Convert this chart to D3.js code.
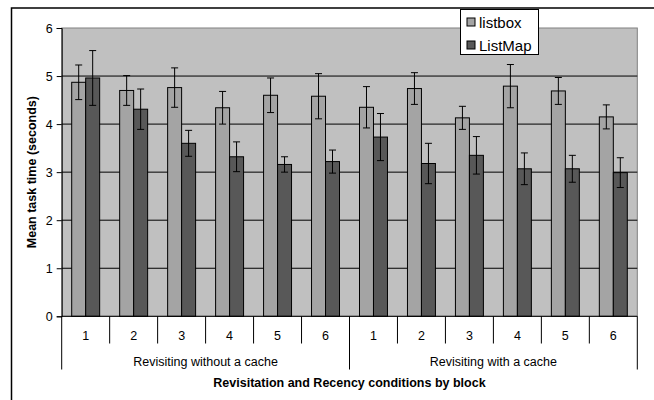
<!DOCTYPE html>
<html><head><meta charset="utf-8">
<script src="https://cdn.jsdelivr.net/npm/d3@7/dist/d3.min.js"></script>
<style>body{margin:0;background:#fff}svg{display:block;font-family:"Liberation Sans",Arial,sans-serif}</style>
</head><body><svg id="c" width="654" height="400"></svg>
<script>
const blocks = ["1","2","3","4","5","6","1","2","3","4","5","6"];
const conditions = ["Revisiting without a cache","Revisiting with a cache"];
const seriesNames = ["listbox","ListMap"];
const listbox = [4.87,4.70,4.76,4.34,4.60,4.58,4.35,4.74,4.13,4.79,4.69,4.15];
const listboxErr = [0.36,0.31,0.41,0.34,0.36,0.47,0.43,0.33,0.24,0.45,0.28,0.25];
const listmap = [4.96,4.31,3.60,3.32,3.16,3.22,3.73,3.18,3.35,3.07,3.07,2.99];
const listmapErr = [0.57,0.42,0.27,0.31,0.16,0.24,0.49,0.42,0.39,0.33,0.28,0.31];
const yTicks = [0,1,2,3,4,5,6];

const FF = "Liberation Sans, Arial, sans-serif";
const FS = 12.5;
const svg = d3.select("#c");
const L = 61.7, R = 637.3, T = 28, B = 316.3;
const colors = {listbox:"#a4a4a4", ListMap:"#585858"};

// outer frame (extends beyond the right/bottom edge like the reference crop)
svg.append("rect").attr("x",11.5).attr("y",8).attr("width",660).attr("height",420)
  .attr("fill","none").attr("stroke","#000").attr("stroke-width",1.5);

const idx = d3.range(blocks.length);
const x = d3.scaleBand().domain(idx).range([L,R]).padding(0);
const xs = d3.scaleBand().domain(seriesNames).range([10, x.bandwidth()-10]).padding(0);
const y = d3.scaleLinear().domain([0,6]).range([B,T]);

// plot background
svg.append("rect").attr("x",L).attr("y",T).attr("width",R-L).attr("height",B-T)
  .attr("fill","#c0c0c0").attr("stroke","#808080");

// gridlines
svg.append("g").selectAll("line").data(yTicks.filter(d=>d>0&&d<6)).join("line")
  .attr("x1",L).attr("x2",R).attr("y1",d=>y(d)).attr("y2",d=>y(d))
  .attr("stroke","#000").attr("stroke-width",1);

// y axis
const ya = svg.append("g").attr("transform",`translate(${L},0)`)
  .call(d3.axisLeft(y).tickValues(yTicks).tickFormat(d3.format("d")).tickSize(5).tickPadding(4));
ya.attr("font-family",FF).attr("font-size",FS);
ya.select(".domain").attr("stroke","#000");
ya.selectAll("text").attr("fill","#000");

// bars
const series = [
  {name:"listbox", vals:listbox, errs:listboxErr},
  {name:"ListMap", vals:listmap, errs:listmapErr}
];
series.forEach(s=>{
  const g = svg.append("g");
  g.selectAll("rect").data(idx).join("rect")
    .attr("x",i=>x(i)+xs(s.name)).attr("width",xs.bandwidth())
    .attr("y",i=>y(s.vals[i])).attr("height",i=>B-y(s.vals[i]))
    .attr("fill",colors[s.name]).attr("stroke","#000").attr("stroke-width",1);
  const eg = svg.append("g").attr("stroke","#000").attr("stroke-width",1);
  idx.forEach(i=>{
    const cx = x(i)+xs(s.name)+xs.bandwidth()/2;
    const hi = y(s.vals[i]+s.errs[i]), lo = y(s.vals[i]-s.errs[i]);
    eg.append("line").attr("x1",cx).attr("x2",cx).attr("y1",hi).attr("y2",lo);
    eg.append("line").attr("x1",cx-3.5).attr("x2",cx+3.5).attr("y1",hi).attr("y2",hi);
    eg.append("line").attr("x1",cx-3.5).attr("x2",cx+3.5).attr("y1",lo).attr("y2",lo);
  });
});

// x axis baseline
svg.append("line").attr("x1",L).attr("x2",R).attr("y1",B).attr("y2",B).attr("stroke","#000");
// category ticks
const cg = svg.append("g").attr("stroke","#000");
d3.range(blocks.length+1).forEach(k=>{
  const xx = k<blocks.length ? x(k) : R;
  const long = (k%6===0);
  cg.append("line").attr("x1",xx).attr("x2",xx).attr("y1",B).attr("y2",long?369.5:343.5)
    .attr("stroke-width",1);
});
svg.append("g").attr("font-family",FF).attr("font-size",FS).selectAll("text").data(idx).join("text")
  .attr("x",i=>x(i)+x.bandwidth()/2).attr("y",339.5).attr("text-anchor","middle")
  .text(i=>blocks[i]);
svg.append("g").attr("font-family",FF).attr("font-size",FS).selectAll("text").data(conditions).join("text")
  .attr("x",(d,k)=>(x(k*6)+ (k===0?x(6):R))/2).attr("y",365.5).attr("text-anchor","middle")
  .text(d=>d);

// axis titles
svg.append("text").attr("x",(L+R)/2).attr("y",387.2).attr("text-anchor","middle")
  .attr("font-family",FF).attr("font-size",FS).attr("font-weight","bold")
  .text("Revisitation and Recency conditions by block");
svg.append("text").attr("transform",`translate(35.5,${(T+B)/2}) rotate(-90)`).attr("text-anchor","middle")
  .attr("font-family",FF).attr("font-size",FS).attr("font-weight","bold")
  .text("Mean task time (seconds)");

// legend
const lg = svg.append("g");
lg.append("rect").attr("x",460.5).attr("y",9.5).attr("width",78).attr("height",45)
  .attr("fill","#fff").attr("stroke","#000");
seriesNames.forEach((n,k)=>{
  const cy = 22 + k*23;
  lg.append("rect").attr("x",467).attr("y",cy-4).attr("width",8).attr("height",8)
    .attr("fill",colors[n]).attr("stroke","#000");
  lg.append("text").attr("x",479).attr("y",cy+5.5).attr("font-family",FF).attr("font-size",15).text(n);
});
</script></body></html>
